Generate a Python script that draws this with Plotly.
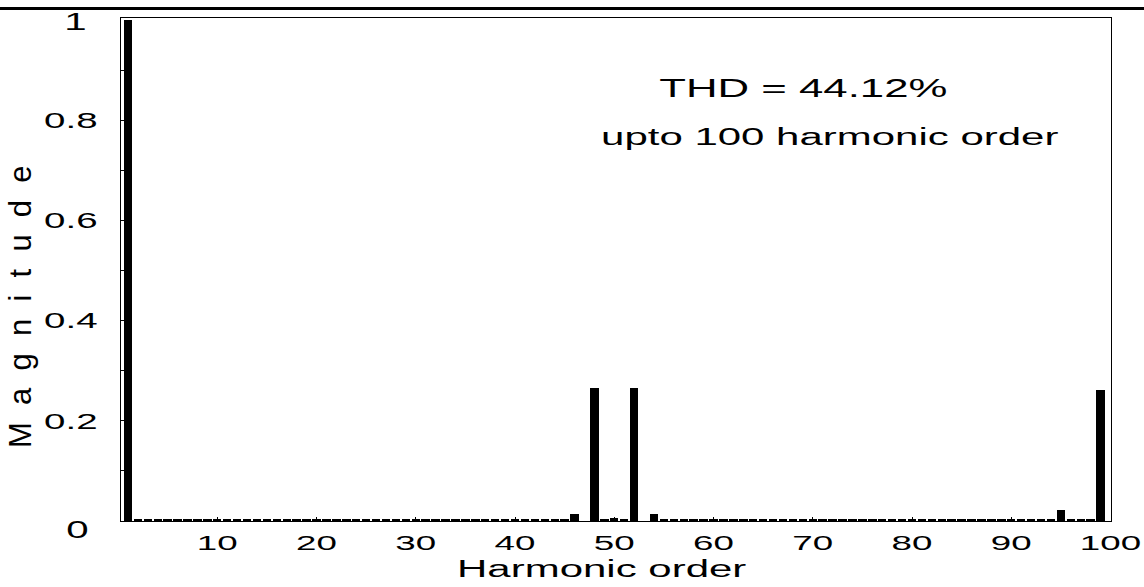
import plotly.graph_objects as go

# ---------------- data ----------------
harmonic_order = list(range(1, 101))
magnitude = [
    1.000, 0.003, 0.003, 0.003, 0.003, 0.003, 0.003, 0.003, 0.003, 0.003,   # 1-10
    0.003, 0.003, 0.003, 0.003, 0.003, 0.003, 0.003, 0.003, 0.003, 0.003,   # 11-20
    0.003, 0.003, 0.003, 0.003, 0.003, 0.003, 0.003, 0.003, 0.003, 0.003,   # 21-30
    0.003, 0.003, 0.003, 0.003, 0.003, 0.003, 0.003, 0.003, 0.003, 0.003,   # 31-40
    0.003, 0.003, 0.003, 0.003, 0.003, 0.014, 0.000, 0.266, 0.005, 0.006,   # 41-50
    0.005, 0.266, 0.000, 0.014, 0.003, 0.003, 0.003, 0.003, 0.003, 0.003,   # 51-60
    0.003, 0.003, 0.003, 0.003, 0.003, 0.003, 0.003, 0.003, 0.003, 0.003,   # 61-70
    0.003, 0.003, 0.003, 0.003, 0.003, 0.003, 0.003, 0.003, 0.003, 0.003,   # 71-80
    0.003, 0.003, 0.003, 0.003, 0.003, 0.003, 0.003, 0.003, 0.003, 0.003,   # 81-90
    0.003, 0.005, 0.003, 0.003, 0.022, 0.003, 0.003, 0.004, 0.262, 0.000,   # 91-100
]
x_tick_values = [10, 20, 30, 40, 50, 60, 70, 80, 90, 100]
x_tick_labels = ["10", "20", "30", "40", "50", "60", "70", "80", "90", "100"]
y_tick_values = [0.2, 0.4, 0.6, 0.8]
y_tick_labels = ["0.2", "0.4", "0.6", "0.8"]
thd_text = "THD = 44.12%"
note_text = "upto 100 harmonic order"
x_title = "Harmonic order"
y_title = "M  a  g  n  i  t  u  d  e"

FONT = "Liberation Sans, Arial, sans-serif"
W, H = 1144, 587
L, R, T, B = 121, 33, 18, 66
PW, PH = W - L - R, H - T - B


def px(xp):
    return (xp - L) / PW


def py(yp):
    return (H - B - yp) / PH


fig = go.Figure()
fig.add_trace(go.Bar(
    x=harmonic_order, y=magnitude, width=0.85,
    marker=dict(color="black", line=dict(width=0)),
    showlegend=False, hoverinfo="x+y",
))

fig.update_layout(
    width=W, height=H,
    margin=dict(l=L, r=R, t=T, b=B, pad=0),
    paper_bgcolor="white", plot_bgcolor="white",
    font=dict(family=FONT, color="black"),
    bargap=0,
    xaxis=dict(
        range=[0.3, 100.05], tickmode="array",
        tickvals=x_tick_values, ticktext=x_tick_labels,
        ticks="inside", ticklen=4, tickcolor="black",
        showline=True, linecolor="black", linewidth=1, mirror=True,
        showgrid=False, zeroline=False,
        tickfont=dict(size=21, family=FONT, color="black"),
        ticklabelstandoff=3,
    ),
    yaxis=dict(
        range=[0, 1.004], tickmode="array",
        tickvals=y_tick_values, ticktext=y_tick_labels,
        ticks="inside", ticklen=5, tickcolor="black",
        minor=dict(tickvals=[0.1, 0.3, 0.5, 0.7, 0.9], ticks="inside",
                   ticklen=5, tickcolor="black"),
        showline=True, linecolor="black", linewidth=1, mirror=True,
        showgrid=False, zeroline=False,
        tickfont=dict(size=22, family=FONT, color="black"),
        ticklabelstandoff=18,
    ),
)

ann = []
ann.append(dict(x=px(75), y=py(21.5), text="1", font=dict(size=23)))
ann.append(dict(x=px(77), y=py(530), text="0", font=dict(size=23)))
ann.append(dict(x=px(803), y=py(88), text=thd_text, font=dict(size=25)))
ann.append(dict(x=px(830), y=py(136), text=note_text, font=dict(size=24)))
ann.append(dict(x=px(601), y=py(569), text=x_title, font=dict(size=24)))
ann.append(dict(x=px(20), y=py(307), text=y_title, textangle=-90, font=dict(size=31)))
for a in ann:
    a.setdefault("xanchor", "center")
    a.setdefault("yanchor", "middle")
    a.update(xref="paper", yref="paper", showarrow=False)
    a["font"].setdefault("family", FONT)
    a["font"].setdefault("color", "black")
    fig.add_annotation(**a)

# header rule
fig.add_shape(type="line", xref="paper", yref="paper",
              x0=px(0), x1=px(W), y0=py(8.5), y1=py(8.5),
              line=dict(color="black", width=3))

# widen glyphs horizontally (reference text is horizontally stretched)
post = """
var gd = document.getElementById('{plot_id}');
var SX = 1.75;
document.body.style.margin = '0';
gd.querySelectorAll('text').forEach(function(t){
  var g = t.closest('.annotation-text-g');
  if (g && (g.getAttribute('transform') || '').indexOf('rotate(-90') >= 0) return;
  var x = parseFloat(t.getAttribute('x') || 0), y = parseFloat(t.getAttribute('y') || 0);
  var tr = t.getAttribute('transform') || '';
  t.setAttribute('transform', tr + ' translate(' + x + ',' + y + ') scale(' + SX + ',1) translate(' + (-x) + ',' + (-y) + ')');
});
"""

fig.write_html("out.html", post_script=post, config={"displayModeBar": False})
